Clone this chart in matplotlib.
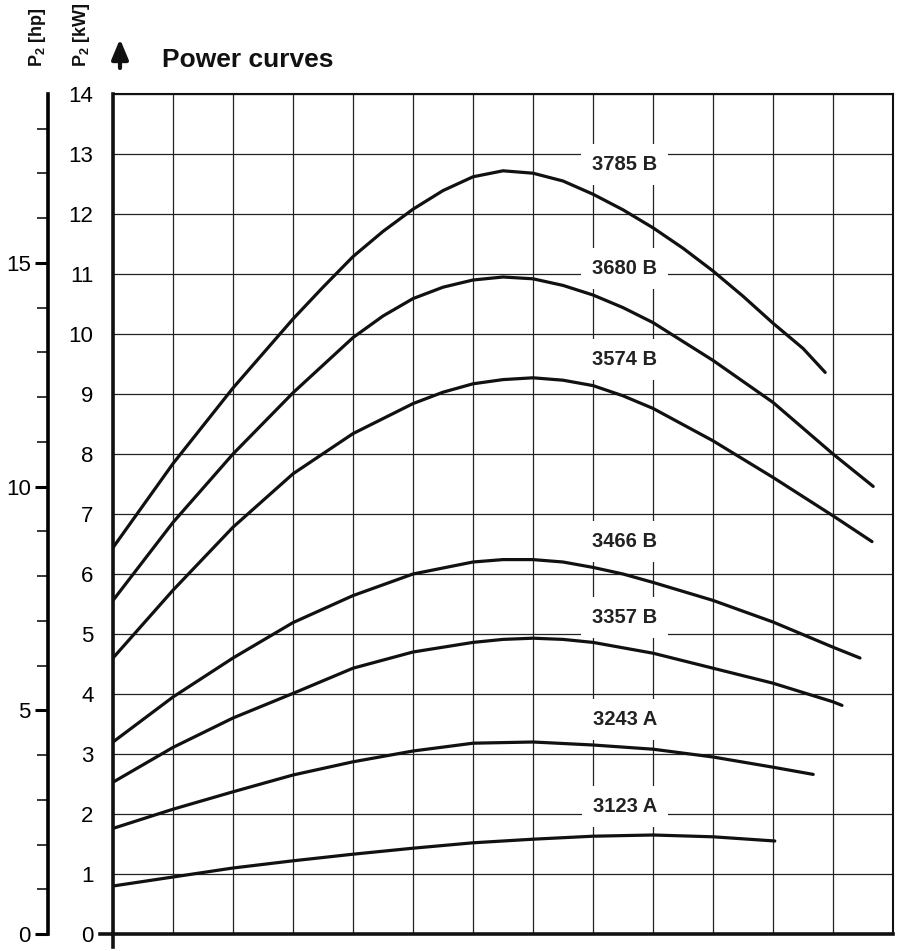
import matplotlib.pyplot as plt
from matplotlib.ticker import MultipleLocator, FixedLocator
from matplotlib.lines import Line2D
from matplotlib.patches import FancyArrowPatch

# Curve data (x in grid units, power in kW)
x_3785 = [0, 1, 2, 3, 3.5, 4, 4.5, 5, 5.5, 6, 6.5, 7, 7.5, 8, 8.5, 9, 9.5, 10, 10.5, 11, 11.5, 11.87]
p_3785 = [6.44, 7.84, 9.1, 10.25, 10.78, 11.29, 11.71, 12.08, 12.39, 12.62, 12.72, 12.68, 12.55, 12.33, 12.07,
          11.77, 11.43, 11.05, 10.63, 10.18, 9.76, 9.36]

x_3680 = [0, 1, 2, 3, 4, 4.5, 5, 5.5, 6, 6.5, 7, 7.5, 8, 8.5, 9, 10, 11, 12, 12.67]
p_3680 = [5.56, 6.86, 8.0, 9.02, 9.94, 10.3, 10.59, 10.78, 10.9, 10.95, 10.92, 10.81, 10.65, 10.44, 10.19,
          9.56, 8.86, 8.0, 7.46]

x_3574 = [0, 1, 2, 3, 4, 5, 5.5, 6, 6.5, 7, 7.5, 8, 8.5, 9, 10, 11, 12, 12.65]
p_3574 = [4.6, 5.73, 6.78, 7.67, 8.34, 8.84, 9.03, 9.17, 9.24, 9.27, 9.23, 9.14, 8.97, 8.76, 8.22, 7.61,
          6.97, 6.54]

x_3466 = [0, 1, 2, 3, 4, 5, 6, 6.5, 7, 7.5, 8, 8.5, 9, 10, 11, 12, 12.45]
p_3466 = [3.2, 3.95, 4.6, 5.19, 5.64, 6.0, 6.2, 6.24, 6.24, 6.2, 6.11, 6.0, 5.86, 5.56, 5.2, 4.78, 4.6]

x_3357 = [0, 1, 2, 3, 4, 5, 6, 6.5, 7, 7.5, 8, 9, 10, 11, 12, 12.15]
p_3357 = [2.53, 3.11, 3.6, 4.01, 4.43, 4.7, 4.86, 4.91, 4.93, 4.91, 4.86, 4.68, 4.43, 4.18, 3.87, 3.81]

x_3243 = [0, 1, 2, 3, 4, 5, 6, 7, 8, 9, 10, 11, 11.67]
p_3243 = [1.76, 2.08, 2.37, 2.65, 2.87, 3.05, 3.18, 3.2, 3.15, 3.08, 2.95, 2.78, 2.66]

x_3123 = [0, 1, 2, 3, 4, 5, 6, 7, 8, 9, 10, 11.03]
p_3123 = [0.8, 0.95, 1.1, 1.22, 1.33, 1.43, 1.52, 1.58, 1.63, 1.65, 1.62, 1.55]

curves = [
    ('3785 B', x_3785, p_3785, 12.83),
    ('3680 B', x_3680, p_3680, 11.09),
    ('3574 B', x_3574, p_3574, 9.57),
    ('3466 B', x_3466, p_3466, 6.54),
    ('3357 B', x_3357, p_3357, 5.28),
    ('3243 A', x_3243, p_3243, 3.58),
    ('3123 A', x_3123, p_3123, 2.13),
]
label_x = 8.53

kw_ticks = list(range(15))
hp_major = [0, 5, 10, 15]

plt.rcParams['font.family'] = ['Liberation Sans', 'DejaVu Sans']
plt.rcParams['mathtext.fontset'] = 'custom'
plt.rcParams['mathtext.bf'] = 'Liberation Sans:bold'
plt.rcParams['mathtext.default'] = 'bf'

W, H = 901, 951
fig = plt.figure(figsize=(W / 100, H / 100), dpi=100)
ax = fig.add_axes([113 / W, (H - 934) / H, 780 / W, 840 / H])

for name, xs, ps, ly in curves:
    ax.plot(xs, ps, color='#111111', lw=2.3, solid_capstyle='round',
            solid_joinstyle='round', zorder=3)
    ax.text(label_x, ly, name, ha='center', va='center', fontsize=14.5,
            fontweight='bold', color='#222222', zorder=4,
            bbox=dict(boxstyle='square,pad=0.55', fc='white', ec='none'))

ax.set_xlim(0, 13)
ax.set_ylim(0, 14)
ax.set_xticks(range(14))
ax.set_yticks(kw_ticks)
ax.grid(True, color='#222222', lw=0.9)
ax.tick_params(axis='x', length=0, labelbottom=False)
ax.tick_params(axis='y', length=0, pad=14, labelsize=16)

for side, lw in [('left', 2.6), ('bottom', 2.6), ('right', 1.5), ('top', 1.5)]:
    ax.spines[side].set_linewidth(lw)
    ax.spines[side].set_color('#111111')

# little extensions of the axes past the origin
ax.add_line(Line2D([-13 / 780, 0], [0, 0], transform=ax.transAxes,
                   color='#111111', lw=2.6, clip_on=False))
ax.add_line(Line2D([0, 0], [-13 / 840, 0], transform=ax.transAxes,
                   color='#111111', lw=2.6, clip_on=False))

# hp axis
kw_per_hp = 0.7457
sec = ax.secondary_yaxis(-65 / 780, functions=(lambda k: k / kw_per_hp,
                                               lambda h: h * kw_per_hp))
sec.yaxis.set_major_locator(FixedLocator(hp_major))
sec.yaxis.set_minor_locator(MultipleLocator(1))
sec.spines['left'].set_linewidth(2.6)
sec.tick_params(which='major', length=9.5, width=2.2, pad=3, labelsize=16)
sec.tick_params(which='minor', length=8, width=1.1)

# titles and axis labels
fig.text(162 / W, 1 - 60 / H, 'Power curves', fontsize=19, fontweight='bold',
         ha='left', va='center', color='#111111')
fig.add_artist(FancyArrowPatch(
    (120 / W, 1 - 68 / H), (120 / W, 1 - 39 / H), transform=fig.transFigure,
    arrowstyle='-|>,head_length=0.6,head_width=0.25', lw=3.0, color='#111111',
    mutation_scale=20, shrinkA=0, shrinkB=0))
fig.text(37 / W, 1 - 67 / H, r'$P_2$ [hp]', rotation=90, fontsize=13,
         fontweight='bold', ha='center', va='bottom', color='#111111')
fig.text(81 / W, 1 - 67 / H, r'$P_2$ [kW]', rotation=90, fontsize=13,
         fontweight='bold', ha='center', va='bottom', color='#111111')

fig.savefig('out.png', dpi=100)
